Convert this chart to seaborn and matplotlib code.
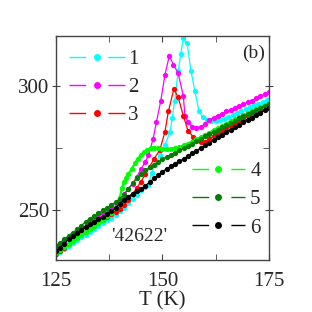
import numpy as np
import pandas as pd
import matplotlib
matplotlib.use("Agg")
import matplotlib.pyplot as plt
from matplotlib.lines import Line2D
import seaborn as sns

# curve 1 (cyan)
t1 = [125, 126, 127, 128, 129, 130, 131, 132, 133, 134, 135, 136, 137, 138, 139, 140,
      141, 142, 143, 144, 145, 146, 146.7, 147.5, 148.2, 149.4, 150.6, 151.8, 152.3,
      152.9, 153.7, 154.3, 154.9, 155.8, 156.7, 157.6, 158.6, 159.5, 160.5, 161.5,
      162.5, 163.5, 164.5, 165.5, 166.6, 167.5, 168.5, 169.5, 170.5, 171.5, 172.5,
      173.5, 174.5]
v1 = [232.3, 233.4, 234.5, 235.7, 236.8, 238, 239.1, 240.2, 241.4, 242.5, 243.6, 244.8,
      245.9, 247, 248.1, 249.5, 251, 252.7, 254.5, 256.3, 258, 259.3, 260.3, 265, 268.3,
      272, 276.2, 281.5, 287, 294, 306, 312.6, 319, 317, 306, 298, 289.7, 287.5, 286.4,
      286, 286, 286.2, 286.8, 287.5, 288.3, 289, 289.8, 290.6, 291.4, 292.1, 292.8,
      293.5, 294.2]

# curve 2 (magenta)
t2 = [125, 126, 127, 128, 129, 130, 131, 132, 133, 134, 135, 136, 137, 138, 139, 140,
      141, 142, 143, 144, 145, 146, 146.7, 147.8, 148.6, 149.6, 150.6, 151.6, 152.6,
      153.7, 154.9, 155.3, 156, 157, 158, 159, 160, 161, 162, 163, 164, 165, 166, 167,
      168, 169, 170, 171, 172, 173, 174, 175]
v2 = [235.2, 236.5, 237.5, 238.8, 240, 241.1, 242.3, 243.4, 244.6, 245.9, 247.2, 248.9,
      250.3, 251.6, 253, 254.3, 256.5, 258.5, 260.5, 263.5, 266.5, 269.5, 272, 278.5,
      285.4, 293.8, 304.4, 311.9, 308.5, 305, 296, 288, 285.4, 283.6, 283.2, 283.6,
      284.5, 286.3, 287.1, 288, 288.8, 289.7, 290.4, 291.2, 291.9, 292.6, 293.3, 294,
      294.9, 295.8, 296.7, 297.5]

# curve 3 (red)
t3 = [125, 126, 127, 128, 129, 130, 131, 132, 133, 134, 135, 136, 137, 138, 139, 140,
      141, 142, 143, 144, 145, 146, 147, 148, 149.4, 150.6, 151.4, 152.7, 153.7, 154.9,
      156, 157.2, 158, 159, 160, 161, 162, 163, 164, 165, 166, 167, 168, 169, 170, 171,
      172, 173, 174, 175]
v3 = [232.5, 233.5, 235, 236.5, 238, 239.2, 240.3, 241.3, 242.5, 243.8, 245.1, 246.2,
      247.3, 248.4, 249.4, 250.5, 252.2, 254, 256.5, 259, 261.5, 264.5, 267.5, 270.5,
      274.2, 281.5, 289.7, 298.7, 295.4, 288, 282, 279.5, 277.8, 277.3, 277.6, 278.6,
      279.7, 280.8, 281.9, 282.9, 283.9, 284.9, 285.9, 286.8, 287.7, 288.7, 289.7,
      290.7, 291.8, 292.7]

# curve 4 (lime)
t4 = [125, 126, 127, 128, 129, 130, 131, 132, 133, 134, 135, 136, 137, 138, 139, 140,
      140.5, 141, 141.5, 142, 142.8, 143.5, 144.2, 145, 145.8, 146.5, 147.3, 148, 149,
      150, 151, 152, 153, 154, 155, 156, 157, 158, 159, 160, 161, 162, 163, 164, 165,
      166, 167, 168, 169, 170, 171, 172, 173, 174, 175]
v4 = [233, 234.2, 235.4, 236.6, 237.8, 239, 240.2, 241.4, 242.6, 243.8, 245, 246.2,
      247.5, 249, 251, 255, 259, 261.5, 263, 264.5, 266.5, 268.8, 270.6, 272.3, 273.5,
      274.3, 274.8, 275, 274.9, 274.6, 274.4, 274.5, 275, 275.5, 276, 276.8, 277.6,
      278.5, 279.4, 280.3, 281.2, 282.1, 283, 283.9, 284.8, 285.7, 286.5, 287.3, 288.1,
      288.9, 289.7, 290.5, 291.3, 292.2, 293]

# curve 5 (dark green)
t5 = list(range(125, 176))
v5 = [235.8, 237, 238.3, 239.8, 241, 242.3, 243.8, 245.4, 246.6, 247.7, 248.8, 249.9,
      250.9, 252, 253.2, 254.6, 256.2, 258.5, 260.8, 262.8, 264.5, 266, 267.2, 268.3,
      269.4, 270.4, 271.4, 272.3, 273.1, 274, 274.9, 275.8, 276.8, 277.8, 278.8, 279.7,
      280.6, 281.5, 282.4, 283.3, 284.2, 285.1, 286, 286.9, 287.7, 288.5, 289.4, 290.3,
      291.2, 292, 292.8]

# curve 6 (black)
t6 = list(range(125, 176))
v6 = [233.5, 235, 236.5, 238.5, 239.8, 241, 242.2, 243.3, 244.4, 245.4, 246.4, 247.4,
      248.4, 249.7, 251, 252.5, 254, 255.5, 256.6, 257.6, 258.7, 259.8, 261.3, 262.8,
      264.1, 265.5, 266.6, 267.6, 268.6, 269.6, 270.7, 271.8, 272.8, 273.9, 275, 276.1,
      277.1, 278.2, 279.3, 280.4, 281.4, 282.4, 283.4, 284.4, 285.3, 286.2, 287.2,
      288.2, 289.2, 290.3, 291.2]

labels = ["1", "2", "3", "4", "5", "6"]
colors = ["#00ffff", "#ff00ff", "#ff0000", "#00ff00", "#008000", "#000000"]
series = [(t1, v1), (t2, v2), (t3, v3), (t4, v4), (t5, v5), (t6, v6)]

sns.set_style("ticks")
plt.rcParams["font.family"] = ["Liberation Serif", "DejaVu Serif"]

fig = plt.figure(figsize=(3.12, 3.12), dpi=100)
ax = fig.add_axes([0.179, 0.1667, 0.683, 0.718])

for (t, v), c, lab in zip(series, colors, labels):
    df = pd.DataFrame({"T": t, "V": v})
    lw = 1.6 if lab == "4" else 0.9
    sns.lineplot(data=df, x="T", y="V", color=c, marker="o", markersize=3.8,
                 markeredgewidth=0, linewidth=lw, sort=False, ax=ax, legend=False)

ax.set_xlim(125, 175)
ax.set_ylim(230, 320)
ax.set_xticks([125, 150, 175])
ax.set_xticks([137.5, 162.5], minor=True)
ax.set_yticks([250, 300])
ax.set_yticks([275], minor=True)
ax.tick_params(axis="x", which="both", direction="in", top=True, length=4,
               labelsize=15, color="#444444", pad=9)
ax.tick_params(axis="y", which="major", direction="inout", right=True, length=6,
               labelsize=15, color="#444444", pad=2)
ax.tick_params(axis="y", which="minor", direction="in", right=True, length=4,
               color="#444444")
for s in ax.spines.values():
    s.set_color("#444444")
    s.set_linewidth(1.0)

ax.set_xlabel("T (K)", fontsize=15, labelpad=0)
ax.set_ylabel("")

ax.text(0.39, 0.103, "'42622'", transform=ax.transAxes, fontsize=14,
        ha="center", va="center")
ax.text(0.93, 0.924, "(b)", transform=ax.transAxes, fontsize=14,
        ha="center", va="center")

def make_handles(idx):
    hs = []
    for i in idx:
        hs.append(Line2D([], [], color=colors[i], marker="o", markersize=5,
                         markeredgewidth=0, linewidth=1,
                         dashes=(12, 16, 13, 100), label=labels[i]))
    return hs

leg1 = ax.legend(handles=make_handles([0, 1, 2]), loc="upper left",
                 bbox_to_anchor=(0.06, 0.94), frameon=False, fontsize=15,
                 handlelength=2.69, handletextpad=0.15, labelspacing=0.4,
                 borderpad=0, borderaxespad=0)
ax.add_artist(leg1)
ax.legend(handles=make_handles([3, 4, 5]), loc="upper left",
          bbox_to_anchor=(0.638, 0.44), frameon=False, fontsize=15,
          handlelength=2.55, handletextpad=0.25, labelspacing=0.42,
          borderpad=0, borderaxespad=0)

fig.savefig("out.png", dpi=100)
